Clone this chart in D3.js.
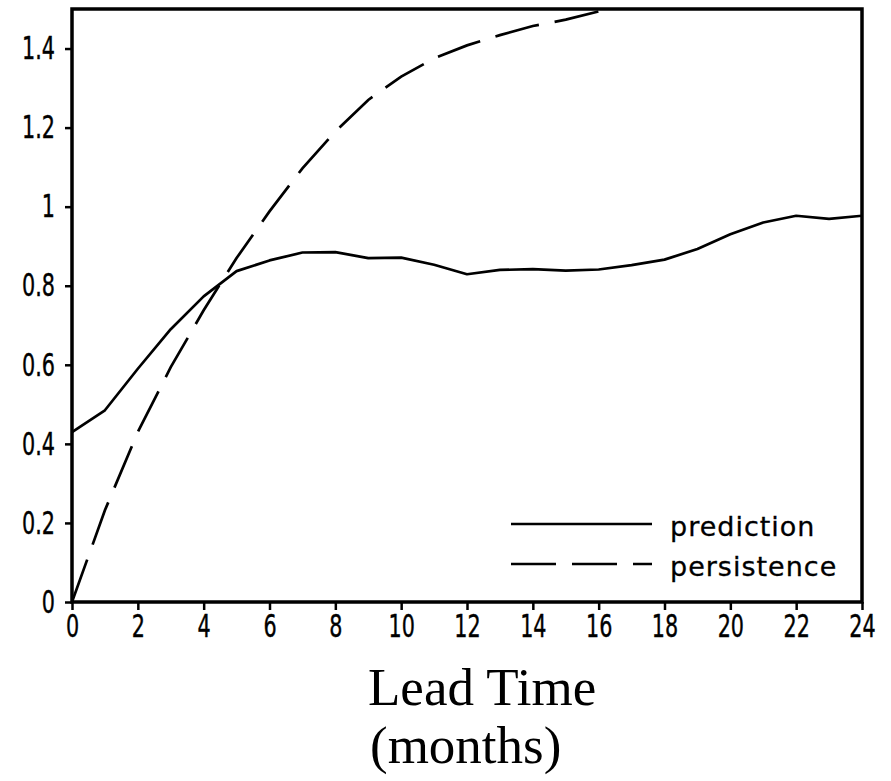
<!DOCTYPE html>
<html>
<head>
<meta charset="utf-8">
<script src="https://cdn.jsdelivr.net/npm/d3@7"></script>
<style>
  body { margin: 0; background: #fff; }
  svg { display: block; }
</style>
</head>
<body>
<svg id="chart"></svg>
<script>
// lead time in months
const months = d3.range(0, 25);
const prediction = [0.43, 0.485, 0.59, 0.69, 0.773, 0.837, 0.864, 0.884, 0.885, 0.870, 0.871,
                    0.853, 0.829, 0.840, 0.842, 0.838, 0.841, 0.852, 0.866, 0.893, 0.930,
                    0.960, 0.977, 0.969, 0.977];
// persistence leaves the top of the frame after month 16
const persistence = [0, 0.232, 0.43, 0.594, 0.738, 0.87, 0.988, 1.097, 1.19, 1.27, 1.329,
                     1.375, 1.408, 1.434, 1.457, 1.473, 1.494];
const xTicks = d3.range(0, 25, 2);
const yTicks = [0, 0.2, 0.4, 0.6, 0.8, 1, 1.2, 1.4];
const legendLabels = ["prediction", "persistence"];

var W = 891, H = 781;
var margin = { top: 9, right: 29, bottom: 179, left: 72 },
    width = W - margin.left - margin.right,
    height = H - margin.top - margin.bottom;

const root = d3.select("#chart").attr("width", W).attr("height", H);
const svg = root.append("g")
  .attr("transform", "translate(" + margin.left + "," + margin.top + ")");

var x = d3.scaleLinear().domain([0, 24]).range([0, width]);
var y = d3.scaleLinear().domain([0, 1.5]).range([height, 0]);

const tickFont = "'DejaVu Sans Condensed', 'DejaVu Sans', sans-serif";
const squeeze = 0.72;

// bottom axis
const xa = svg.append("g")
  .attr("transform", "translate(0," + height + ")")
  .call(d3.axisBottom(x).tickValues(xTicks).tickSize(8).tickSizeOuter(0).tickPadding(4)
        .tickFormat(d3.format("d")));
xa.select(".domain").remove();
xa.selectAll("line").attr("stroke", "#000").attr("stroke-width", 2.5);
xa.selectAll("text")
  .style("font-family", tickFont).style("font-size", "32px").attr("fill", "#000")
  .attr("stroke", "#000").attr("stroke-width", 0.4)
  .attr("transform", "scale(" + squeeze + ",1)");

// left axis
const ya = svg.append("g")
  .call(d3.axisLeft(y).tickValues(yTicks).tickSize(7).tickSizeOuter(0).tickPadding(10)
        .tickFormat(d => d3.format("")(+d.toFixed(1))));
ya.select(".domain").remove();
ya.selectAll("line").attr("stroke", "#000").attr("stroke-width", 2.5);
ya.selectAll("text")
  .style("font-family", tickFont).style("font-size", "32px").attr("fill", "#000")
  .attr("stroke", "#000").attr("stroke-width", 0.4)
  .attr("x", -17 / squeeze)
  .attr("transform", "scale(" + squeeze + ",1)");

// data lines, clipped to the frame
svg.append("clipPath").attr("id", "plot-clip")
  .append("rect").attr("width", width).attr("height", height);

var line = d3.line().x(function(d) { return x(d[0]); }).y(function(d) { return y(d[1]); });

svg.append("path")
  .datum(prediction.map((v, i) => [months[i], v]))
  .attr("clip-path", "url(#plot-clip)")
  .attr("fill", "none").attr("stroke", "#000").attr("stroke-width", 2.7)
  .attr("stroke-linejoin", "round")
  .attr("d", line);

svg.append("path")
  .datum(persistence.map((v, i) => [months[i], v]))
  .attr("clip-path", "url(#plot-clip)")
  .attr("fill", "none").attr("stroke", "#000").attr("stroke-width", 2.7)
  .attr("stroke-dasharray", "45,16")
  .attr("d", line);

// frame
svg.append("rect")
  .attr("width", width).attr("height", height)
  .attr("fill", "none").attr("stroke", "#000").attr("stroke-width", 3.5);

// legend
const legend = svg.selectAll(".legend")
  .data(legendLabels)
  .enter().append("g")
  .attr("class", "legend")
  .attr("transform", (d, i) => "translate(" + (width - 351) + "," + (515 + i * 40) + ")");
legend.append("line")
  .attr("x1", 0).attr("x2", 141).attr("y1", 0).attr("y2", 0)
  .attr("stroke", "#000").attr("stroke-width", 2.7)
  .attr("stroke-dasharray", (d, i) => i ? "45,16" : null);
legend.append("text")
  .attr("x", 159).attr("y", 12)
  .style("font-family", "'DejaVu Sans', sans-serif").style("font-size", "27px")
  .style("letter-spacing", "1px")
  .attr("stroke", "#000").attr("stroke-width", 0.3)
  .text(d => d);

// axis title
const title = root.append("text")
  .style("font-family", "'Liberation Serif', 'Times New Roman', serif")
  .style("font-size", "53px").attr("fill", "#000");
title.append("tspan").attr("x", 368).attr("y", 705).text("Lead Time");
title.append("tspan").attr("x", 370).attr("y", 763).text("(months)");
</script>
</body>
</html>
